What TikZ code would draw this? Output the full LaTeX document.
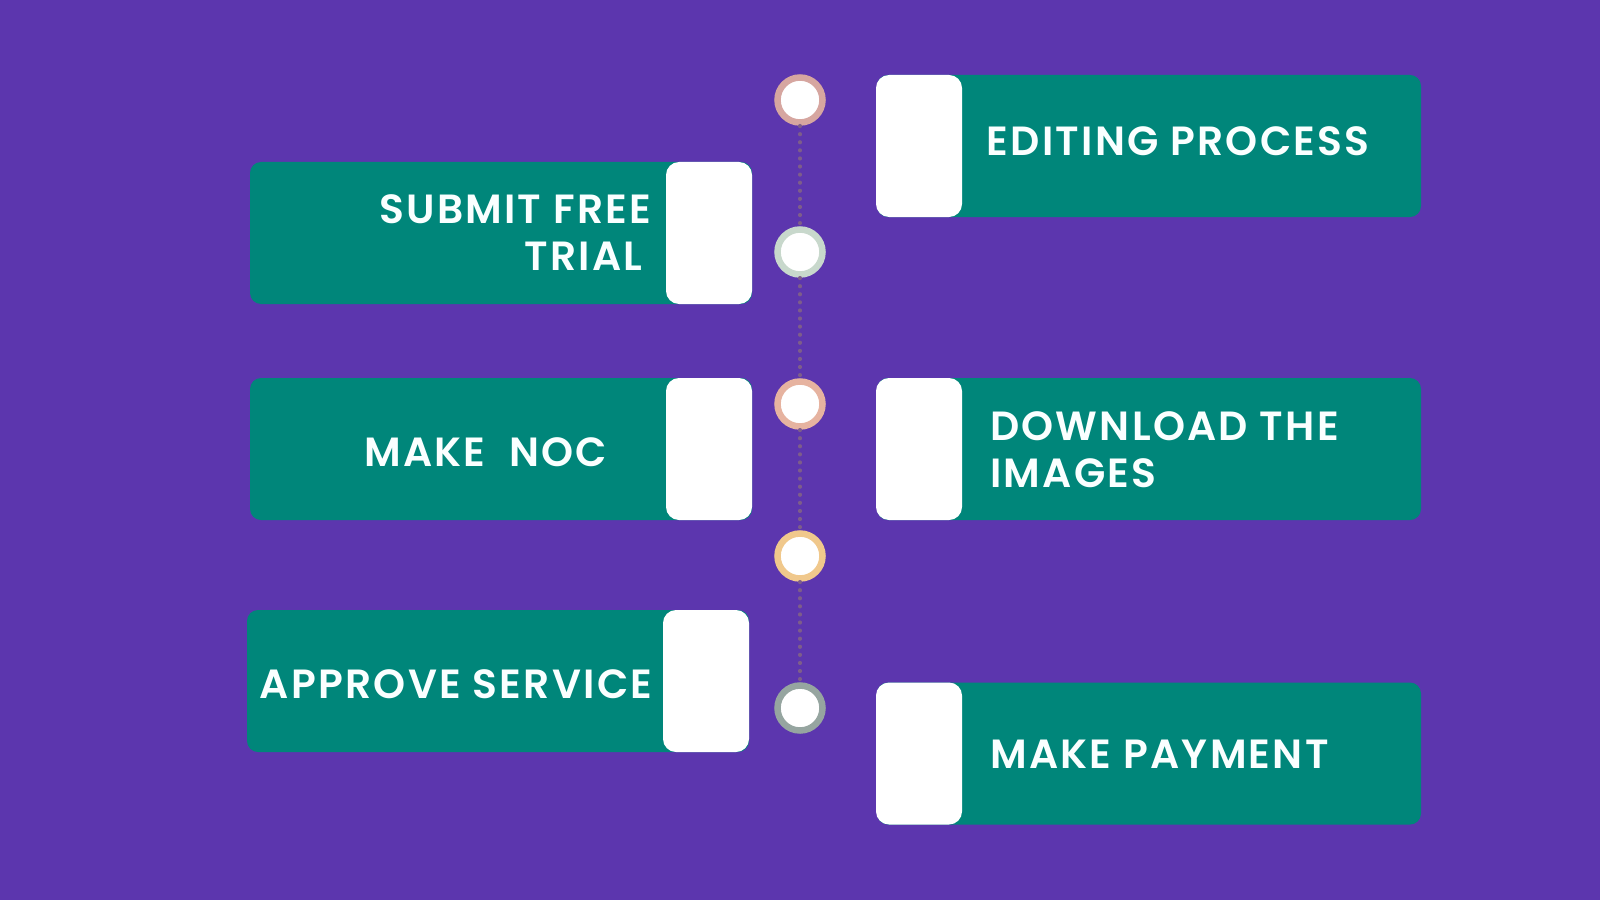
\documentclass[tikz,border=0pt]{standalone}
\usepackage{fontspec}
\setmainfont{Poppins}[BoldFont={Poppins SemiBold}]
\usepackage{tikz}

\begin{document}
\begin{tikzpicture}[
  card/.style={fill=cbox,rounded corners=0.11cm,minimum height=1.42cm,inner sep=0pt},
  tabbox/.style={fill=ctab,rounded corners=0.13cm,minimum width=0.86cm,minimum height=1.42cm,inner sep=0pt},
  cardtext/.style={text=ctext,font=\bfseries\fontsize{11.6}{13.4}\selectfont\addfontfeatures{LetterSpace=5.5},inner sep=0pt},
  ring/.style={circle,minimum size=0.45cm,line width=0.065cm,inner sep=0pt,fill=white},
  dotline/.style={color=cdot,line width=0.035cm,dash pattern=on 0.2pt off 2.1pt,line cap=round}
]
\definecolor{cbg}{rgb}{0.361,0.212,0.682}
\definecolor{cbox}{rgb}{0.0,0.525,0.478}
\definecolor{ctab}{rgb}{1.0,1.0,1.0}
\definecolor{ctext}{rgb}{0.98,1.0,1.0}
\definecolor{cdot}{rgb}{0.490,0.365,0.541}
\definecolor{cv1}{rgb}{0.839,0.651,0.627}
\definecolor{cv2}{rgb}{0.784,0.847,0.800}
\definecolor{cv3}{rgb}{0.902,0.702,0.627}
\definecolor{cv4}{rgb}{0.941,0.784,0.549}
\definecolor{cv5}{rgb}{0.588,0.647,0.627}
%
\fill[cbg] (0,0) rectangle (16,9);
%
\node[card,minimum width=5.02cm] (s1) at (5.01,6.67) {};
\node[tabbox] (t1) at (7.09,6.67) {};
\node[card,minimum width=5.02cm] (s2) at (5.01,4.51) {};
\node[tabbox] (t2) at (7.09,4.51) {};
\node[card,minimum width=5.02cm] (s3) at (4.98,2.19) {};
\node[tabbox] (t3) at (7.06,2.19) {};
\node[card,minimum width=5.44cm] (e1) at (11.49,7.54) {};
\node[tabbox] (u1) at (9.19,7.54) {};
\node[card,minimum width=5.44cm] (e2) at (11.49,4.51) {};
\node[tabbox] (u2) at (9.19,4.51) {};
\node[card,minimum width=5.44cm] (e3) at (11.49,1.465) {};
\node[tabbox] (u3) at (9.19,1.465) {};
%
\node[cardtext,align=right,anchor=east] (ls1) at (6.52,6.67) {SUBMIT FREE\\TRIAL\hspace*{2.5pt}};
\node[cardtext,anchor=base east] (ls2) at (6.08,4.34) {MAKE\ \ NOC};
\node[cardtext,anchor=base east] (ls3) at (6.53,2.02) {APPROVE SERVICE};
\node[cardtext,anchor=base west] (le1) at (9.86,7.44) {EDITING PROCESS};
\node[cardtext,align=left,anchor=west] (le2) at (9.895,4.50) {DOWNLOAD THE\\IMAGES};
\node[cardtext,anchor=base west] (le3) at (9.895,1.32) {MAKE PAYMENT};
%
\node[ring,draw=cv1] (c1) at (8.0,8.0) {};
\node[ring,draw=cv2] (c2) at (8.0,6.48) {};
\node[ring,draw=cv3] (c3) at (8.0,4.96) {};
\node[ring,draw=cv4] (c4) at (8.0,3.44) {};
\node[ring,draw=cv5] (c5) at (8.0,1.92) {};
%
\draw[dotline] (c1) -- (c2);
\draw[dotline] (c2) -- (c3);
\draw[dotline] (c3) -- (c4);
\draw[dotline] (c4) -- (c5);
%
\end{tikzpicture}
\end{document}
